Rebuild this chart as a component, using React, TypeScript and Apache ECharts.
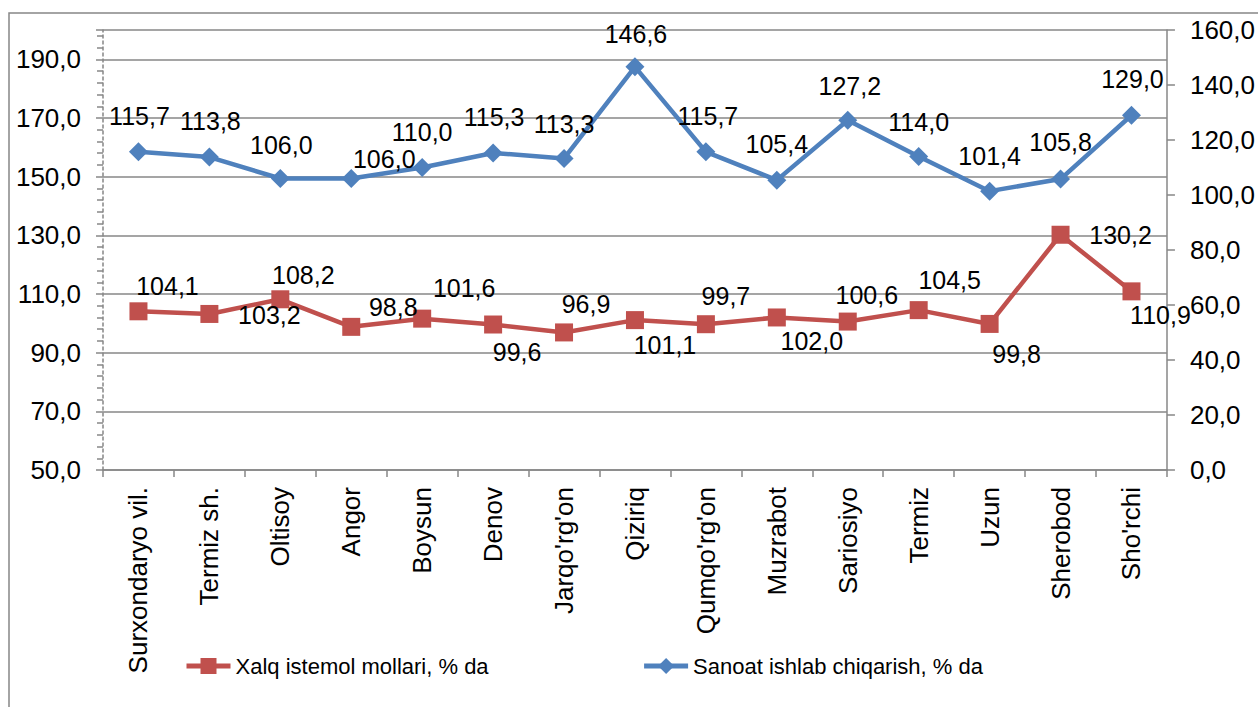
import React, { useEffect, useRef } from "react";
import * as echarts from "echarts";

const categories = [
  "Surxondaryo vil.", "Termiz sh.", "Oltisoy", "Angor", "Boysun", "Denov", "Jarqo'rg'on",
  "Qiziriq", "Qumqo'rg'on", "Muzrabot", "Sariosiyo", "Termiz", "Uzun", "Sherobod", "Sho'rchi",
];
const consumerGoods = [104.1, 103.2, 108.2, 98.8, 101.6, 99.6, 96.9, 101.1, 99.7, 102.0, 100.6, 104.5, 99.8, 130.2, 110.9];
const industrial = [115.7, 113.8, 106.0, 106.0, 110.0, 115.3, 113.3, 146.6, 115.7, 105.4, 127.2, 114.0, 101.4, 105.8, 129.0];
const seriesNames = ["Xalq istemol mollari, % da", "Sanoat ishlab chiqarish, % da"];

// label placement (layout only): offset of the label centre from the point
const redLabelOffsets = [
  [29, -25], [60, 1], [23, -24], [42, -20], [42, -31], [24, 27], [22, -28], [30, 25],
  [20, -28], [35, 24], [19, -27], [31, -30], [27, 30], [60, 0], [29, 24],
];
const blueLabelOffsets = [
  [1, -36], [1, -36], [1, -34], [33, -20], [0, -36], [1, -36], [0, -34], [1, -33],
  [2, -36], [0, -36], [2, -34], [0, -35], [0, -35], [0, -37], [1, -36],
];

const FONT = "'Liberation Sans', Arial, sans-serif";
const fmt = (v: number) => v.toFixed(1).replace(".", ",");
const GRAY = "#878787";

export default function App() {
  const ref = useRef<HTMLDivElement>(null);
  useEffect(() => {
    if (!ref.current) return;
    const chart = echarts.init(ref.current, undefined, { renderer: "svg" });
    const mkData = (vals: number[], offs: number[][]) =>
      vals.map((v, i) => ({ value: v, label: { offset: offs[i] } }));
    const labelBase = {
      show: true,
      position: "inside",
      color: "#000",
      fontSize: 25,
      fontFamily: FONT,
      textBorderWidth: 0,
      formatter: (p: any) => fmt(p.value),
    };
    chart.setOption({
      animation: false,
      textStyle: { fontFamily: FONT },
      graphic: [
        {
          type: "rect",
          shape: { x: 9, y: 13, width: 1400, height: 900 },
          style: { fill: "none", stroke: GRAY, lineWidth: 1.5 },
          silent: true,
        },
      ],
      grid: { left: 103, right: 90, top: 30, bottom: 237, containLabel: false },
      legend: {
        left: 184,
        top: 655,
        itemGap: 153,
        itemWidth: 44,
        itemHeight: 20,
        padding: 0,
        lineStyle: { width: 5 },
        textStyle: { fontSize: 22, color: "#000", fontFamily: FONT },
        data: [seriesNames[0], seriesNames[1]],
      },
      xAxis: {
        type: "category",
        data: categories,
        boundaryGap: true,
        axisLine: { lineStyle: { color: GRAY, width: 1.5 } },
        axisTick: { show: true, length: 7, lineStyle: { color: GRAY, width: 1.5 } },
        axisLabel: { rotate: 90, fontSize: 26, color: "#000", margin: 17, fontFamily: FONT },
        splitLine: { show: false },
      },
      yAxis: [
        {
          type: "value",
          min: 50,
          max: 200,
          interval: 20,
          position: "left",
          axisLine: { show: true, lineStyle: { color: GRAY, width: 1.5, type: [3, 3] } },
          axisTick: { show: true, length: 7, lineStyle: { color: GRAY, width: 1.5 } },
          minorTick: { show: true, splitNumber: 5, length: 6, lineStyle: { color: GRAY, width: 1.5 } },
          axisLabel: {
            fontSize: 26,
            color: "#000",
            margin: 22,
            showMaxLabel: false,
            fontFamily: FONT,
            formatter: (v: number) => (v >= 200 ? "" : fmt(v)),
          },
          splitLine: { show: true, lineStyle: { color: GRAY, width: 1.5 } },
        },
        {
          type: "value",
          min: 0,
          max: 160,
          interval: 20,
          position: "right",
          axisLine: { show: true, lineStyle: { color: GRAY, width: 1.5 } },
          axisTick: { show: true, length: 8, lineStyle: { color: GRAY, width: 1.5 } },
          axisLabel: { fontSize: 26, color: "#000", margin: 23, fontFamily: FONT, formatter: (v: number) => fmt(v) },
          splitLine: { show: false },
        },
      ],
      series: [
        {
          name: seriesNames[0],
          type: "line",
          yAxisIndex: 0,
          data: mkData(consumerGoods, redLabelOffsets),
          symbol: "rect",
          symbolSize: 18,
          itemStyle: { color: "#C0504D" },
          lineStyle: { color: "#C0504D", width: 4.5 },
          label: labelBase,
          z: 3,
        },
        {
          name: seriesNames[1],
          type: "line",
          yAxisIndex: 1,
          data: mkData(industrial, blueLabelOffsets),
          symbol: "diamond",
          symbolSize: 19,
          itemStyle: { color: "#4F81BD" },
          lineStyle: { color: "#4F81BD", width: 4.5 },
          label: labelBase,
          z: 3,
        },
      ],
    });
    return () => chart.dispose();
  }, []);
  return (
    <div
      ref={ref}
      style={{ position: "fixed", left: 0, top: 0, width: 1258, height: 707, background: "#fff" }}
    />
  );
}
